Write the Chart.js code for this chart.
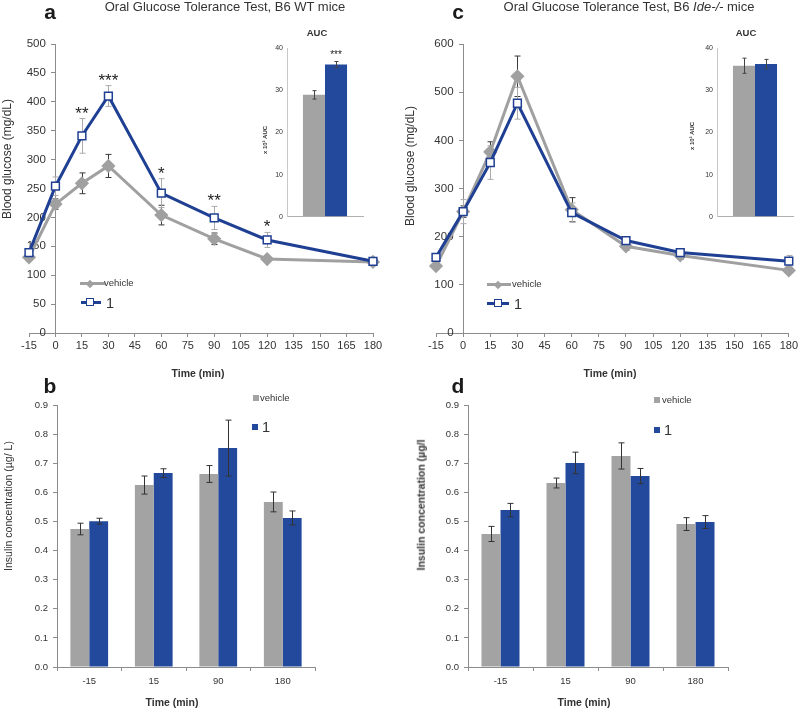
<!DOCTYPE html>
<html>
<head>
<meta charset="utf-8">
<script src="https://cdn.jsdelivr.net/npm/chart.js@4.4.1/dist/chart.umd.min.js"></script>
<style>
  body { margin: 0; background: #fff; }
  #fig { position: relative; width: 800px; height: 708px; overflow: hidden; font-family: "Liberation Sans", Arial, sans-serif; color: #333; }
  #fig canvas { position: absolute; }
  .t { position: absolute; white-space: nowrap; line-height: 1; transform: translate(-50%, -50%); }
  .l { position: absolute; white-space: nowrap; line-height: 1; transform: translate(0, -50%); }
  .v { position: absolute; white-space: nowrap; line-height: 1; transform: translate(-50%, -50%) rotate(-90deg); }
  .pl { font-weight: bold; font-size: 21px; color: #1a1a1a; }
  .ttl { font-size: 13px; }
  .tm { font-size: 10.5px; font-weight: bold; }
  .sw { position: absolute; box-sizing: border-box; }
</style>
</head>
<body>
<div id="fig">
  <canvas id="ga" width="400" height="360" style="left:0;top:0"></canvas>
  <canvas id="gc" width="400" height="360" style="left:400px;top:0"></canvas>
  <canvas id="aa" width="115" height="205" style="left:255px;top:20px"></canvas>
  <canvas id="ac" width="120" height="205" style="left:680px;top:20px"></canvas>
  <canvas id="ib" width="400" height="328" style="left:0;top:380px"></canvas>
  <canvas id="id" width="400" height="328" style="left:400px;top:380px"></canvas>

  <!-- panel letters and titles -->
  <div class="t pl" style="left:50px;top:11px">a</div>
  <div class="t pl" style="left:458px;top:11px">c</div>
  <div class="t pl" style="left:50px;top:385px">b</div>
  <div class="t pl" style="left:458px;top:385px">d</div>
  <div class="t ttl" style="left:225px;top:6px">Oral Glucose Tolerance Test, B6 WT mice</div>
  <div class="t ttl" style="left:629px;top:6px">Oral Glucose Tolerance Test, B6 <i>Ide-/-</i> mice</div>

  <!-- axis titles -->
  <div class="v" style="left:7px;top:159px;font-size:12px">Blood glucose (mg/dL)</div>
  <div class="v" style="left:410px;top:166px;font-size:12px">Blood glucose (mg/dL)</div>
  <div class="t tm" style="left:198px;top:373px">Time (min)</div>
  <div class="t tm" style="left:610px;top:373px">Time (min)</div>
  <div class="t tm" style="left:172px;top:702px">Time (min)</div>
  <div class="t tm" style="left:584px;top:702px">Time (min)</div>
  <div class="v" style="left:8px;top:506px;font-size:10.5px">Insulin concentration (µg/ L)</div>
  <div class="v" style="left:421px;top:505px;font-size:10.5px;font-weight:bold">Insulin concentration (µg/l</div>

  <!-- AUC insets -->
  <div class="t" style="left:317px;top:33px;font-size:9.5px;font-weight:bold">AUC</div>
  <div class="t" style="left:746px;top:33px;font-size:9.5px;font-weight:bold">AUC</div>
  <div class="v" style="left:265px;top:140px;font-size:6px;font-weight:bold">x 10³ AUC</div>
  <div class="v" style="left:692px;top:136px;font-size:6px;font-weight:bold">x 10³ AUC</div>

  <!-- legends, panel a -->
  <div class="sw" style="left:80px;top:282px;width:25px;height:3px;background:#a0a0a0"></div>
  <div class="sw" style="left:87px;top:280.5px;width:6px;height:6px;background:#a0a0a0;transform:rotate(45deg)"></div>
  <div class="l" style="left:104px;top:283px;font-size:9.5px">vehicle</div>
  <div class="sw" style="left:81px;top:300.5px;width:20px;height:3px;background:#1f3f93"></div>
  <div class="sw" style="left:86px;top:298px;width:8px;height:8px;background:#fff;border:1.5px solid #1f3f93"></div>
  <div class="l" style="left:106px;top:303px;font-size:14.5px">1</div>

  <!-- legends, panel c -->
  <div class="sw" style="left:487px;top:283px;width:24px;height:3px;background:#a0a0a0"></div>
  <div class="sw" style="left:495px;top:281.5px;width:6px;height:6px;background:#a0a0a0;transform:rotate(45deg)"></div>
  <div class="l" style="left:512px;top:284px;font-size:9.5px">vehicle</div>
  <div class="sw" style="left:487px;top:301.5px;width:22px;height:3px;background:#1f3f93"></div>
  <div class="sw" style="left:494px;top:299px;width:8px;height:8px;background:#fff;border:1.5px solid #1f3f93"></div>
  <div class="l" style="left:514px;top:304px;font-size:14.5px">1</div>

  <!-- legends, panels b and d -->
  <div class="sw" style="left:253px;top:395px;width:6px;height:6px;background:#a3a3a3"></div>
  <div class="l" style="left:260px;top:398px;font-size:9.5px">vehicle</div>
  <div class="sw" style="left:252px;top:424px;width:6px;height:6px;background:#22499b"></div>
  <div class="l" style="left:262px;top:427px;font-size:14.5px">1</div>
  <div class="sw" style="left:654px;top:397px;width:6px;height:6px;background:#a3a3a3"></div>
  <div class="l" style="left:662px;top:400px;font-size:9.5px">vehicle</div>
  <div class="sw" style="left:654px;top:427px;width:6px;height:6px;background:#22499b"></div>
  <div class="l" style="left:664px;top:430px;font-size:14.5px">1</div>
</div>

<script>
// glucose (mg/dL) over time (min)
const TIMES = [-15, 0, 15, 30, 60, 90, 120, 180];
const WT_VEH = [131, 223, 259, 289, 204, 163, 128, 123];
const WT_VEH_ERR = [5, 9, 18, 20, 17, 10, 4, 4];
const WT_DRUG = [139, 254, 341, 410, 242, 199, 161, 124];
const WT_DRUG_ERR = [6, 16, 30, 18, 25, 20, 13, 6];
const WT_STARS = ['', '', '**', '***', '*', '**', '*', ''];
const KO_VEH = [139, 252, 376, 533, 256, 180, 161, 130];
const KO_VEH_ERR = [6, 12, 21, 42, 25, 8, 8, 5];
const KO_DRUG = [157, 252, 354, 477, 250, 192, 167, 149];
const KO_DRUG_ERR = [8, 25, 35, 33, 20, 8, 6, 12];

// AUC insets (x 10^3)
const WT_AUC = [28.9, 36.1];
const WT_AUC_ERR = [1.0, 0.7];
const KO_AUC = [35.8, 36.2];
const KO_AUC_ERR = [1.8, 1.1];

// insulin (µg/L)
const INS_TIMES = ['-15', '15', '90', '180'];
const WT_INS_VEH = [0.474, 0.625, 0.663, 0.567];
const WT_INS_VEH_ERR = [0.02, 0.031, 0.029, 0.034];
const WT_INS_DRUG = [0.501, 0.666, 0.752, 0.512];
const WT_INS_DRUG_ERR = [0.01, 0.015, 0.096, 0.024];
const KO_INS_VEH = [0.457, 0.632, 0.725, 0.491];
const KO_INS_VEH_ERR = [0.026, 0.017, 0.045, 0.022];
const KO_INS_DRUG = [0.539, 0.701, 0.656, 0.498];
const KO_INS_DRUG_ERR = [0.023, 0.037, 0.026, 0.022];

const GRAY = '#a0a0a0', BLUE = '#1f3f93', BAR_GRAY = '#a3a3a3', BAR_BLUE = '#22499b';
const AXIS = '#8c8c8c', TXT = '#333';
const FONT = '"Liberation Sans", Arial, sans-serif';

const valOf = d => (typeof d === 'object' ? d.y : d);

function drawErrors(chart) {
  const ctx = chart.ctx, y = chart.scales.y;
  chart.data.datasets.forEach((ds, di) => {
    if (!ds.errors) return;
    const meta = chart.getDatasetMeta(di);
    ctx.save();
    ctx.strokeStyle = ds.errorColor || '#333';
    ctx.lineWidth = 1;
    meta.data.forEach((el, i) => {
      const v = valOf(ds.data[i]), e = ds.errors[i];
      const top = y.getPixelForValue(v + e), bot = y.getPixelForValue(v - e);
      const x = Math.round(el.x) + 0.5, w = ds.capWidth || 3;
      ctx.beginPath();
      ctx.moveTo(x, top); ctx.lineTo(x, bot);
      ctx.moveTo(x - w, top); ctx.lineTo(x + w, top);
      ctx.moveTo(x - w, bot); ctx.lineTo(x + w, bot);
      ctx.stroke();
    });
    ctx.restore();
  });
}

const errorBars = {
  id: 'errorBars',
  beforeDatasetsDraw(chart) { if (chart.config.type === 'line') drawErrors(chart); },
  afterDatasetsDraw(chart) { if (chart.config.type === 'bar') drawErrors(chart); },
};

// significance asterisks above the error bar of a series
const starMarks = {
  id: 'starMarks',
  afterDatasetsDraw(chart) {
    const ctx = chart.ctx, y = chart.scales.y;
    chart.data.datasets.forEach((ds, di) => {
      if (!ds.marks) return;
      const meta = chart.getDatasetMeta(di);
      ctx.save();
      ctx.fillStyle = '#222';
      ctx.font = ds.markFont;
      ctx.textAlign = 'center';
      ctx.textBaseline = 'alphabetic';
      meta.data.forEach((el, i) => {
        if (!ds.marks[i]) return;
        const top = y.getPixelForValue(valOf(ds.data[i]) + ds.errors[i]);
        ctx.fillText(ds.marks[i], el.x, top + (ds.markShift || 0));
      });
      ctx.restore();
    });
  }
};

const pts = (xs, ys) => xs.map((x, i) => ({ x, y: ys[i] }));

function glucoseChart(id, veh, vehErr, drug, drugErr, marks, yMax, yStep, pad) {
  return new Chart(document.getElementById(id), {
    type: 'line',
    data: {
      datasets: [
        { label: 'vehicle', data: pts(TIMES, veh), errors: vehErr, errorColor: '#3a3a3a', order: 2,
          borderColor: GRAY, backgroundColor: GRAY, borderWidth: 3, pointStyle: 'rectRot', pointRadius: 5 },
        { label: '1', data: pts(TIMES, drug), errors: drugErr, errorColor: '#ababab', order: 1,
          marks, markFont: '17px ' + FONT, markShift: 0,
          borderColor: BLUE, backgroundColor: '#fff', borderWidth: 3,
          pointStyle: 'rect', pointRadius: 5.5, pointBackgroundColor: '#fff', pointBorderColor: BLUE, pointBorderWidth: 1.5 },
      ],
    },
    options: {
      responsive: false, animation: false,
      layout: { padding: pad },
      plugins: { legend: { display: false }, tooltip: { enabled: false } },
      datasets: { line: { tension: 0, clip: false } },
      scales: {
        x: {
          type: 'linear', min: -15, max: 180,
          afterFit: s => { s.height = 27; },
          ticks: { stepSize: 15, color: TXT, font: { family: FONT, size: 11 }, padding: 2, maxRotation: 0 },
          grid: { drawOnChartArea: false, color: AXIS, tickLength: 4 },
          border: { color: AXIS },
        },
        y: {
          // axis crosses at time 0; labels sit right-aligned on it, so pad them with trailing spaces
          position: { x: 0 }, min: 0, max: yMax,
          ticks: { stepSize: yStep, color: TXT, font: { family: FONT, size: 11.5 }, callback: v => v + '   ' },
          grid: { drawOnChartArea: false, color: AXIS, tickLength: 4 },
          border: { color: AXIS },
        },
      },
    },
    plugins: [errorBars, starMarks],
  });
}

function aucChart(id, vals, errs, stars, yWidth, padRight) {
  return new Chart(document.getElementById(id), {
    type: 'bar',
    data: {
      labels: ['AUC'],
      datasets: [
        { label: 'vehicle', data: [vals[0]], errors: [errs[0]], errorColor: '#444', capWidth: 2, backgroundColor: BAR_GRAY },
        { label: '1', data: [vals[1]], errors: [errs[1]], errorColor: '#444', capWidth: 2, backgroundColor: BAR_BLUE,
          marks: stars, markFont: '10px ' + FONT, markShift: -4 },
      ],
    },
    options: {
      responsive: false, animation: false,
      layout: { padding: { left: 0, right: padRight, top: 28, bottom: 0 } },
      plugins: { legend: { display: false }, tooltip: { enabled: false } },
      datasets: { bar: { categoryPercentage: 0.58, barPercentage: 1 } },
      scales: {
        x: {
          afterFit: s => { s.height = 8; },
          ticks: { display: false },
          grid: { display: false },
          border: { color: '#b0b0b0' },
        },
        y: {
          min: 0, max: 40,
          afterFit: s => { s.width = yWidth; },
          ticks: { stepSize: 10, color: TXT, font: { family: FONT, size: 7 }, padding: 4 },
          grid: { drawOnChartArea: false, drawTicks: false },
          border: { color: '#c8c8c8' },
        },
      },
    },
    plugins: [errorBars, starMarks],
  });
}

function insulinChart(id, veh, vehErr, drug, drugErr, yWidth, padRight) {
  return new Chart(document.getElementById(id), {
    type: 'bar',
    data: {
      labels: INS_TIMES,
      datasets: [
        { label: 'vehicle', data: veh, errors: vehErr, errorColor: '#333', backgroundColor: BAR_GRAY },
        { label: '1', data: drug, errors: drugErr, errorColor: '#333', backgroundColor: BAR_BLUE },
      ],
    },
    options: {
      responsive: false, animation: false,
      layout: { padding: { left: 0, right: padRight, top: 25, bottom: 0 } },
      plugins: { legend: { display: false }, tooltip: { enabled: false } },
      datasets: { bar: { categoryPercentage: 0.585, barPercentage: 1 } },
      scales: {
        x: {
          afterFit: s => { s.height = 41; },
          ticks: { color: TXT, font: { family: FONT, size: 9.5 }, padding: 5 },
          grid: { drawOnChartArea: false, color: AXIS, tickLength: 4, offset: true },
          border: { color: AXIS },
        },
        y: {
          min: 0, max: 0.9,
          afterFit: s => { s.width = yWidth; },
          ticks: { stepSize: 0.1, color: TXT, font: { family: FONT, size: 9.5 }, padding: 5,
                   callback: v => v.toFixed(1) },
          grid: { drawOnChartArea: false, color: AXIS, tickLength: 4 },
          border: { color: AXIS },
        },
      },
    },
    plugins: [errorBars],
  });
}

glucoseChart('ga', WT_VEH, WT_VEH_ERR, WT_DRUG, WT_DRUG_ERR, WT_STARS, 500, 50,
  { left: 29, right: 27, top: 44, bottom: 0 });
glucoseChart('gc', KO_VEH, KO_VEH_ERR, KO_DRUG, KO_DRUG_ERR, null, 600, 100,
  { left: 36, right: 9, top: 44, bottom: 0 });
aucChart('aa', WT_AUC, WT_AUC_ERR, ['***'], 32, 7);
aucChart('ac', KO_AUC, KO_AUC_ERR, null, 37, 7);
insulinChart('ib', WT_INS_VEH, WT_INS_VEH_ERR, WT_INS_DRUG, WT_INS_DRUG_ERR, 57, 85);
insulinChart('id', KO_INS_VEH, KO_INS_VEH_ERR, KO_INS_DRUG, KO_INS_DRUG_ERR, 68, 72);
</script>
</body>
</html>
